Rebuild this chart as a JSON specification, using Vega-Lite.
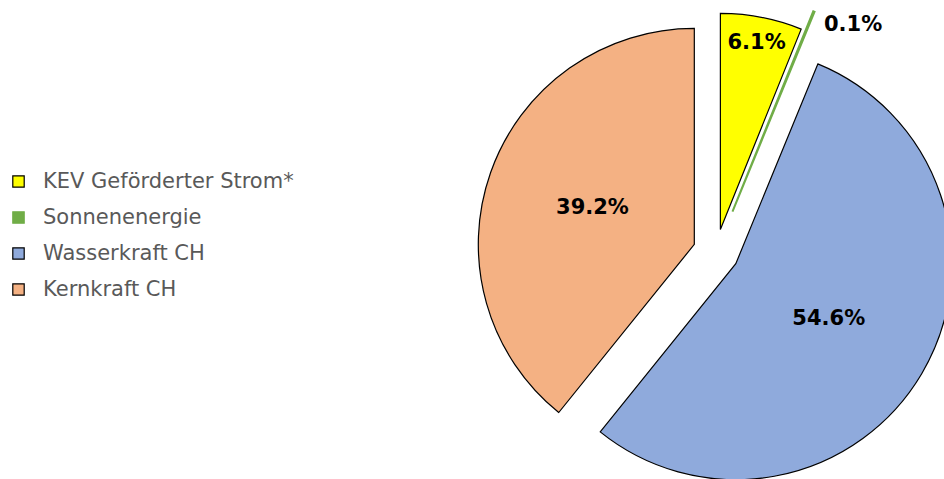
{
  "$schema": "https://vega.github.io/schema/vega-lite/v6.json",
  "width": 944,
  "height": 479,
  "autosize": "none",
  "padding": 0,
  "background": "white",
  "config": {"view": {"stroke": null}, "font": "DejaVu Sans"},
  "data": {
    "values": [
      {"source": "KEV Geförderter Strom*", "share": 0.061, "order": 1},
      {"source": "Sonnenenergie", "share": 0.001, "order": 2},
      {"source": "Wasserkraft CH", "share": 0.546, "order": 3},
      {"source": "Kernkraft CH", "share": 0.392, "order": 4}
    ]
  },
  "transform": [
    {"window": [{"op": "sum", "field": "share", "as": "end"}], "sort": [{"field": "order"}], "frame": [null, 0]},
    {"calculate": "datum.end - datum.share", "as": "start"},
    {"calculate": "(datum.start + datum.end) / 2", "as": "mid"},
    {"calculate": "datum.source === 'Sonnenenergie' ? 1.9 : 1", "as": "explode"},
    {"calculate": "datum.explode * sin(datum.mid * 2 * PI)", "as": "ex"},
    {"calculate": "datum.explode * cos(datum.mid * 2 * PI)", "as": "ey"}
  ],
  "encoding": {
    "x": {"field": "ex", "type": "quantitative", "scale": {"domain": [-31.13, 9.913], "nice": false, "zero": false}, "axis": null},
    "y": {"field": "ey", "type": "quantitative", "scale": {"domain": [-9.87, 10.96], "nice": false, "zero": false}, "axis": null}
  },
  "layer": [
    {
      "mark": {"type": "arc", "outerRadius": 216},
      "encoding": {
        "theta": {"field": "start", "type": "quantitative", "scale": {"domain": [0, 1], "range": [0, 6.283185307]}},
        "theta2": {"field": "end"},
        "color": {
          "field": "source", "type": "nominal",
          "scale": {
            "domain": ["KEV Geförderter Strom*", "Sonnenenergie", "Wasserkraft CH", "Kernkraft CH"],
            "range": ["#FFFF00", "#70AD47", "#8FAADC", "#F4B183"]
          },
          "legend": {
            "title": null,
            "orient": "none",
            "legendX": 8,
            "legendY": 171,
            "padding": 0,
            "symbolType": "square",
            "symbolSize": 130,
            "symbolStrokeWidth": 1.2,
            "symbolStrokeColor": "black",
            "labelFont": "DejaVu Sans",
            "labelFontSize": 21,
            "labelColor": "#595959",
            "labelOffset": 14,
            "rowPadding": 14,
            "labelLimit": 400,
            "encode": {
              "symbols": {"update": {"stroke": [{"test": "datum.value === 'Sonnenenergie'", "value": "#70AD47"}, {"value": "black"}]}}
            }
          }
        },
        "stroke": {"condition": {"test": "datum.source === 'Sonnenenergie'", "value": "#70AD47"}, "value": "black"},
        "strokeWidth": {"condition": {"test": "datum.source === 'Sonnenenergie'", "value": 2}, "value": 1.2},
        "order": {"field": "order"}
      }
    },
    {
      "transform": [{"filter": "datum.share > 0.2"}],
      "mark": {"type": "text", "radius": 108, "fontWeight": "bold", "fontSize": 21, "font": "DejaVu Sans", "color": "black", "align": "center", "baseline": "middle"},
      "encoding": {
        "theta": {"field": "mid", "type": "quantitative"},
        "text": {"field": "share", "type": "quantitative", "format": ".1%"}
      }
    },
    {
      "transform": [{"filter": "datum.source === 'KEV Geförderter Strom*'"}],
      "mark": {"type": "text", "radius": 190, "fontWeight": "bold", "fontSize": 21, "font": "DejaVu Sans", "color": "black", "align": "center", "baseline": "middle"},
      "encoding": {
        "theta": {"field": "mid", "type": "quantitative"},
        "text": {"field": "share", "type": "quantitative", "format": ".1%"}
      }
    },
    {
      "transform": [{"filter": "datum.source === 'Sonnenenergie'"}],
      "mark": {"type": "text", "radius": 222, "thetaOffset": 0.188, "fontWeight": "bold", "fontSize": 21, "font": "DejaVu Sans", "color": "black", "align": "center", "baseline": "middle"},
      "encoding": {
        "theta": {"field": "mid", "type": "quantitative"},
        "text": {"field": "share", "type": "quantitative", "format": ".1%"}
      }
    }
  ]
}
